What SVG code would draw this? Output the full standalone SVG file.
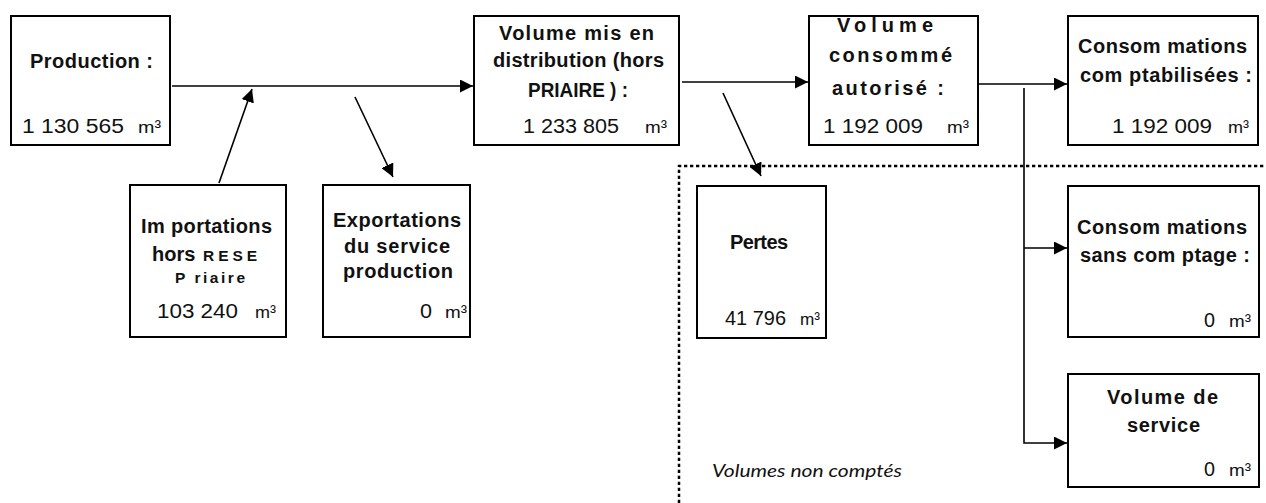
<svg xmlns="http://www.w3.org/2000/svg" width="1266" height="503" viewBox="0 0 1266 503">
<defs>
<marker id="arr" markerUnits="userSpaceOnUse" markerWidth="14" markerHeight="13" refX="13" refY="6.5" orient="auto">
<path d="M0,0 L13,6.5 L0,13 z" fill="#000"/>
</marker>
<style>
.box{fill:#fff;stroke:#000;stroke-width:2}
.lb{font-family:"Liberation Sans",Arial,sans-serif;font-weight:bold;font-size:20px;fill:#111}
.sm{font-family:"Liberation Sans",Arial,sans-serif;font-weight:bold;font-size:15.5px;fill:#111}
.num{font-family:"Liberation Sans",Arial,sans-serif;font-size:20px;fill:#111}
.unit{font-family:"Liberation Sans",Arial,sans-serif;font-size:17px;fill:#111}
.it{font-family:Lato,"Liberation Sans",sans-serif;font-style:italic;font-size:18px;fill:#111}
.con{stroke:#000;stroke-width:1.6;fill:none}
.dot{stroke:#000;stroke-width:2.5;fill:none;stroke-dasharray:3.3 2.7}
</style>
</defs>
<rect width="1266" height="503" fill="#fff"/>

<g id="zone-non-comptes">
<path class="dot" d="M679,503 L679,166 L1266,166"/>
<text class="it" x="712" y="477" textLength="190" lengthAdjust="spacingAndGlyphs">Volumes non comptés</text>
</g>

<g id="connectors">
<line class="con" x1="172" y1="86" x2="473" y2="86" marker-end="url(#arr)"/>
<line class="con" x1="219" y1="183" x2="252" y2="89" marker-end="url(#arr)"/>
<line class="con" x1="355" y1="97" x2="393" y2="177" marker-end="url(#arr)"/>
<line class="con" x1="682" y1="82" x2="808" y2="82" marker-end="url(#arr)"/>
<line class="con" x1="723" y1="93" x2="761" y2="176" marker-end="url(#arr)"/>
<line class="con" x1="978" y1="84" x2="1067" y2="84" marker-end="url(#arr)"/>
<path class="con" d="M1024,88 L1024,443 L1067,443" marker-end="url(#arr)"/>
<line class="con" x1="1024" y1="248" x2="1067" y2="248" marker-end="url(#arr)"/>
</g>

<g id="production">
<rect class="box" x="11" y="16" width="159" height="129"/>
<text class="lb" x="30" y="68" textLength="123" lengthAdjust="spacing">Production :</text>
<text class="num" x="22" y="133" textLength="102" lengthAdjust="spacingAndGlyphs">1 130 565</text>
<text class="unit" x="138" y="133" textLength="23" lengthAdjust="spacingAndGlyphs">m³</text>
</g>

<g id="importations">
<rect class="box" x="130" y="185" width="156" height="152"/>
<text class="lb" x="141" y="233" textLength="131" lengthAdjust="spacing">Im portations</text>
<text class="lb" x="152" y="261">hors</text>
<text class="sm" x="203" y="261" textLength="54" lengthAdjust="spacing">RESE</text>
<text class="sm" x="175" y="283" textLength="70" lengthAdjust="spacing">P riaire</text>
<text class="num" x="157" y="318" textLength="81" lengthAdjust="spacingAndGlyphs">103 240</text>
<text class="unit" x="255" y="318" textLength="21" lengthAdjust="spacingAndGlyphs">m³</text>
</g>

<g id="exportations">
<rect class="box" x="323" y="185" width="147" height="152"/>
<text class="lb" x="333" y="227" textLength="128" lengthAdjust="spacing">Exportations</text>
<text class="lb" x="344" y="253" textLength="106" lengthAdjust="spacing">du service</text>
<text class="lb" x="343" y="278" textLength="110" lengthAdjust="spacing">production</text>
<text class="num" x="420" y="318" textLength="12" lengthAdjust="spacingAndGlyphs">0</text>
<text class="unit" x="445" y="318" textLength="22" lengthAdjust="spacingAndGlyphs">m³</text>
</g>

<g id="volume-mis-en-distribution">
<rect class="box" x="474" y="16" width="205" height="129"/>
<text class="lb" x="499" y="40" textLength="155" lengthAdjust="spacing">Volume mis en</text>
<text class="lb" x="493" y="67" textLength="171" lengthAdjust="spacing">distribution (hors</text>
<text class="lb" x="528" y="97" textLength="100" lengthAdjust="spacingAndGlyphs">PRIAIRE ) :</text>
<text class="num" x="523" y="133" textLength="96" lengthAdjust="spacingAndGlyphs">1 233 805</text>
<text class="unit" x="645" y="133" textLength="22" lengthAdjust="spacingAndGlyphs">m³</text>
</g>

<g id="volume-consomme-autorise">
<rect class="box" x="809" y="16" width="169" height="129"/>
<text class="lb" x="837" y="32" textLength="96" lengthAdjust="spacing">Volume</text>
<text class="lb" x="829" y="62" textLength="123" lengthAdjust="spacing">consommé</text>
<text class="lb" x="832" y="95" textLength="112" lengthAdjust="spacing">autorisé :</text>
<text class="num" x="823" y="133" textLength="100" lengthAdjust="spacingAndGlyphs">1 192 009</text>
<text class="unit" x="947" y="133" textLength="22" lengthAdjust="spacingAndGlyphs">m³</text>
</g>

<g id="consommations-comptabilisees">
<rect class="box" x="1068" y="16" width="190" height="129"/>
<text class="lb" x="1078" y="53" textLength="169" lengthAdjust="spacing">Consom mations</text>
<text class="lb" x="1080" y="82" textLength="172" lengthAdjust="spacing">com ptabilisées :</text>
<text class="num" x="1112" y="133" textLength="100" lengthAdjust="spacingAndGlyphs">1 192 009</text>
<text class="unit" x="1228" y="133" textLength="21" lengthAdjust="spacingAndGlyphs">m³</text>
</g>

<g id="pertes">
<rect class="box" x="697" y="186" width="129" height="152"/>
<text class="lb" x="730" y="249" textLength="58" lengthAdjust="spacing">Pertes</text>
<text class="num" x="725" y="325" textLength="61" lengthAdjust="spacingAndGlyphs">41 796</text>
<text class="unit" x="800" y="325" textLength="20" lengthAdjust="spacingAndGlyphs">m³</text>
</g>

<g id="consommations-sans-comptage">
<rect class="box" x="1068" y="186" width="191" height="151"/>
<text class="lb" x="1077" y="234" textLength="170" lengthAdjust="spacing">Consom mations</text>
<text class="lb" x="1080" y="262" textLength="170" lengthAdjust="spacing">sans com ptage :</text>
<text class="num" x="1204" y="327" textLength="11" lengthAdjust="spacingAndGlyphs">0</text>
<text class="unit" x="1229" y="327" textLength="22" lengthAdjust="spacingAndGlyphs">m³</text>
</g>

<g id="volume-de-service">
<rect class="box" x="1068" y="374" width="191" height="113"/>
<text class="lb" x="1107" y="404" textLength="111" lengthAdjust="spacing">Volume de</text>
<text class="lb" x="1127" y="432" textLength="73" lengthAdjust="spacing">service</text>
<text class="num" x="1204" y="476" textLength="11" lengthAdjust="spacingAndGlyphs">0</text>
<text class="unit" x="1229" y="476" textLength="22" lengthAdjust="spacingAndGlyphs">m³</text>
</g>
</svg>
